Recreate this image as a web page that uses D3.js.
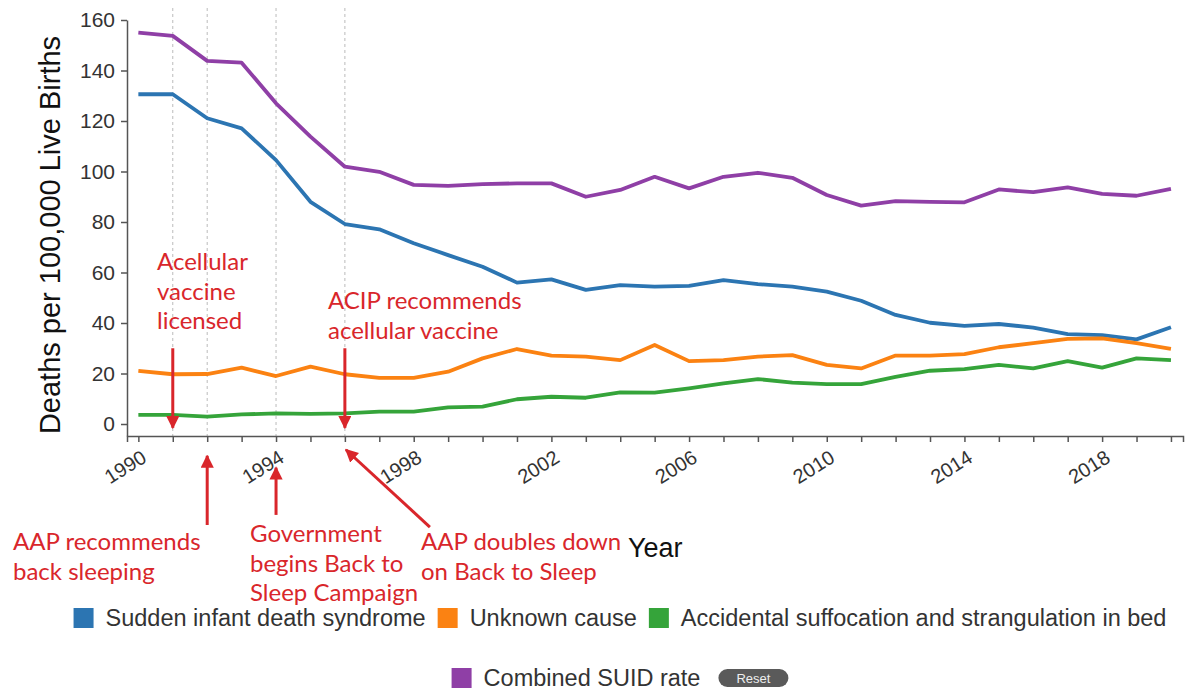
<!DOCTYPE html>
<html>
<head>
<meta charset="utf-8">
<script src="https://cdn.jsdelivr.net/npm/d3@7"></script>
<style>
  html, body { margin: 0; padding: 0; background: #fff; }
  svg { display: block; font-family: "Liberation Sans", Arial, sans-serif; }
  .axis text { fill: #333; }
  .axis path, .axis line { stroke: #555; stroke-width: 1.5; }
  .note { font-family: Lato, "Open Sans", sans-serif; fill: #d9262b; }
</style>
</head>
<body>
<script>
'use strict';

// Data
const years = d3.range(1990, 2021);
const sids = [130.6, 130.6, 121.1, 117.1, 104.5, 88.0, 79.2, 77.1, 71.6, 66.9,
  62.3, 56.0, 57.3, 53.1, 55.0, 54.4, 54.7, 57.0, 55.4, 54.4,
  52.4, 48.8, 43.2, 40.1, 38.9, 39.6, 38.2, 35.6, 35.2, 33.5, 38.3];
const unknown = [21.0, 19.7, 19.8, 22.3, 19.0, 22.7, 19.7, 18.3, 18.3, 20.7,
  26.0, 29.7, 27.1, 26.7, 25.3, 31.3, 24.9, 25.3, 26.7, 27.3,
  23.4, 22.0, 27.1, 27.1, 27.7, 30.4, 32.0, 33.7, 33.9, 32.0, 29.8];
const accidental = [3.6, 3.6, 2.9, 3.8, 4.2, 4.0, 4.2, 4.9, 4.9, 6.6,
  6.9, 9.8, 10.8, 10.4, 12.5, 12.4, 14.1, 16.1, 17.8, 16.4,
  15.8, 15.8, 18.7, 21.1, 21.7, 23.4, 22.0, 24.9, 22.3, 26.0, 25.3];
const combined = [155.0, 153.7, 143.8, 143.1, 127.0, 113.8, 101.9, 99.9, 94.7, 94.3,
  95.0, 95.3, 95.3, 90.0, 92.7, 97.9, 93.3, 97.9, 99.5, 97.5,
  90.7, 86.5, 88.3, 88.0, 87.8, 92.9, 91.8, 93.7, 91.1, 90.4, 93.1];

const seriesNames = ['Sudden infant death syndrome', 'Unknown cause',
  'Accidental suffocation and strangulation in bed', 'Combined SUID rate'];
const seriesValues = [sids, unknown, accidental, combined];
const yTicks = [0, 20, 40, 60, 80, 100, 120, 140, 160];
const xLabelYears = [1990, 1994, 1998, 2002, 2006, 2010, 2014, 2018];
const markerYears = [1991, 1992, 1994, 1996];

// arrows: [fromYear, fromValue, toYear, toValue]
const arrows = [
  [1991, 30, 1991, -1.5],
  [1996, 30, 1996, -1.5],
  [1992, -40, 1992, -12.6],
  [1994, -36, 1994, -17.3],
  [1998.47, -40.8, 1996.03, -10.2]
];
const noteLines = [
  ['Acellular', 'vaccine', 'licensed'],
  ['ACIP recommends', 'acellular vaccine'],
  ['AAP recommends', 'back sleeping'],
  ['Government', 'begins Back to', 'Sleep Campaign'],
  ['AAP doubles down', 'on Back to Sleep']
];

// Layout
const opts = {
  width: 1195,
  height: 691,
  plot: { left: 127, right: 1183, top: 20, bottom: 436 },
  colours: ['#2c75b2', '#fb8212', '#35a43a', '#8f3fa6'],
  notes: [[157, 270], [328, 309], [13, 550], [250, 542], [421, 550]],
  noteLineHeight: 29.5,
  legendRows: [[0, 1, 2], [3]],
  legendY: [618, 678],
  legendCentre: 620
};

const x = d3.scaleLinear()
  .domain([1989.67, 2020.35])
  .range([opts.plot.left, opts.plot.right]);

const y = d3.scaleLinear()
  .domain([-4.75, 160])
  .range([opts.plot.bottom, opts.plot.top]);

const svg = d3.select('body').append('svg')
  .attr('width', opts.width)
  .attr('height', opts.height)
  .attr('viewBox', `0 0 ${opts.width} ${opts.height}`);

svg.append('defs').append('marker')
  .attr('id', 'head')
  .attr('viewBox', '0 0 10 10')
  .attr('refX', 9).attr('refY', 5)
  .attr('markerWidth', 4.4).attr('markerHeight', 4.4)
  .attr('orient', 'auto')
  .append('path')
  .attr('d', 'M0,0 L10,5 L0,10 z')
  .attr('fill', '#d9262b');

// dotted event lines
svg.append('g').selectAll('line')
  .data(markerYears)
  .enter().append('line')
  .attr('x1', d => x(d)).attr('x2', d => x(d))
  .attr('y1', 8).attr('y2', opts.plot.bottom)
  .attr('stroke', '#bbb')
  .attr('stroke-width', 1)
  .attr('stroke-dasharray', '3,3');

// Axes
svg.append('g')
  .attr('class', 'axis')
  .attr('transform', `translate(${opts.plot.left},0)`)
  .call(d3.axisLeft(y).tickValues(yTicks).tickSize(6).tickSizeOuter(0))
  .call(g => g.selectAll('text').attr('font-size', 21).attr('dx', -3));

svg.append('g')
  .attr('class', 'axis')
  .attr('transform', `translate(0,${opts.plot.bottom})`)
  .call(d3.axisBottom(x).tickValues(years).tickSize(6)
    .tickFormat(d => xLabelYears.includes(d) ? d : ''))
  .call(g => g.selectAll('text')
    .attr('font-size', 20)
    .attr('text-anchor', 'end')
    .attr('y', 0).attr('dy', 0)
    .attr('transform', 'translate(9,25) rotate(-32)'));

svg.append('text')
  .attr('transform', `translate(60,${(opts.plot.top + opts.plot.bottom) / 2 + 7}) rotate(-90)`)
  .attr('text-anchor', 'middle')
  .attr('font-size', 29)
  .attr('fill', '#111')
  .text('Deaths per 100,000 Live Births');

svg.append('text')
  .attr('x', 628).attr('y', 557)
  .attr('font-size', 27)
  .attr('fill', '#111')
  .text('Year');

// Lines
const line = d3.line()
  .x((_d, i) => x(years[i]))
  .y(d => y(d));

svg.append('g').selectAll('path')
  .data(seriesValues)
  .enter().append('path')
  .attr('d', line)
  .attr('fill', 'none')
  .attr('stroke', (_d, i) => opts.colours[i])
  .attr('stroke-width', 3.8)
  .attr('stroke-linejoin', 'round');

// Annotations
svg.append('g').selectAll('line')
  .data(arrows)
  .enter().append('line')
  .attr('x1', d => x(d[0])).attr('y1', d => y(d[1]))
  .attr('x2', d => x(d[2])).attr('y2', d => y(d[3]))
  .attr('stroke', '#d9262b')
  .attr('stroke-width', 3)
  .attr('marker-end', 'url(#head)');

noteLines.forEach((lines, n) => {
  const t = svg.append('text')
    .attr('class', 'note')
    .attr('font-size', 24)
    .attr('x', opts.notes[n][0])
    .attr('y', opts.notes[n][1]);
  lines.forEach((l, i) => {
    t.append('tspan')
      .attr('x', opts.notes[n][0])
      .attr('dy', i ? opts.noteLineHeight : 0)
      .text(l);
  });
});

// Legend
opts.legendRows.forEach((row, r) => {
  const g = svg.append('g');
  let cx = 0;
  row.forEach(k => {
    g.append('rect')
      .attr('x', cx).attr('y', opts.legendY[r] - 10)
      .attr('width', 20).attr('height', 20)
      .attr('fill', opts.colours[k]);
    const t = g.append('text')
      .attr('x', cx + 32).attr('y', opts.legendY[r] + 8)
      .attr('font-size', 23.5)
      .attr('fill', '#333')
      .text(seriesNames[k]);
    cx += 32 + t.node().getComputedTextLength() + 12;
  });
  if (r === 1) {
    g.append('rect')
      .attr('x', cx + 6).attr('y', opts.legendY[r] - 9)
      .attr('width', 70).attr('height', 18).attr('rx', 9)
      .attr('fill', '#5a5a5a');
    g.append('text')
      .attr('x', cx + 41).attr('y', opts.legendY[r] + 4.5)
      .attr('text-anchor', 'middle')
      .attr('font-size', 13)
      .attr('fill', '#eee')
      .text('Reset');
    cx += 76;
  } else {
    cx -= 12;
  }
  g.attr('transform', `translate(${opts.legendCentre - cx / 2},0)`);
});
</script>
</body>
</html>
